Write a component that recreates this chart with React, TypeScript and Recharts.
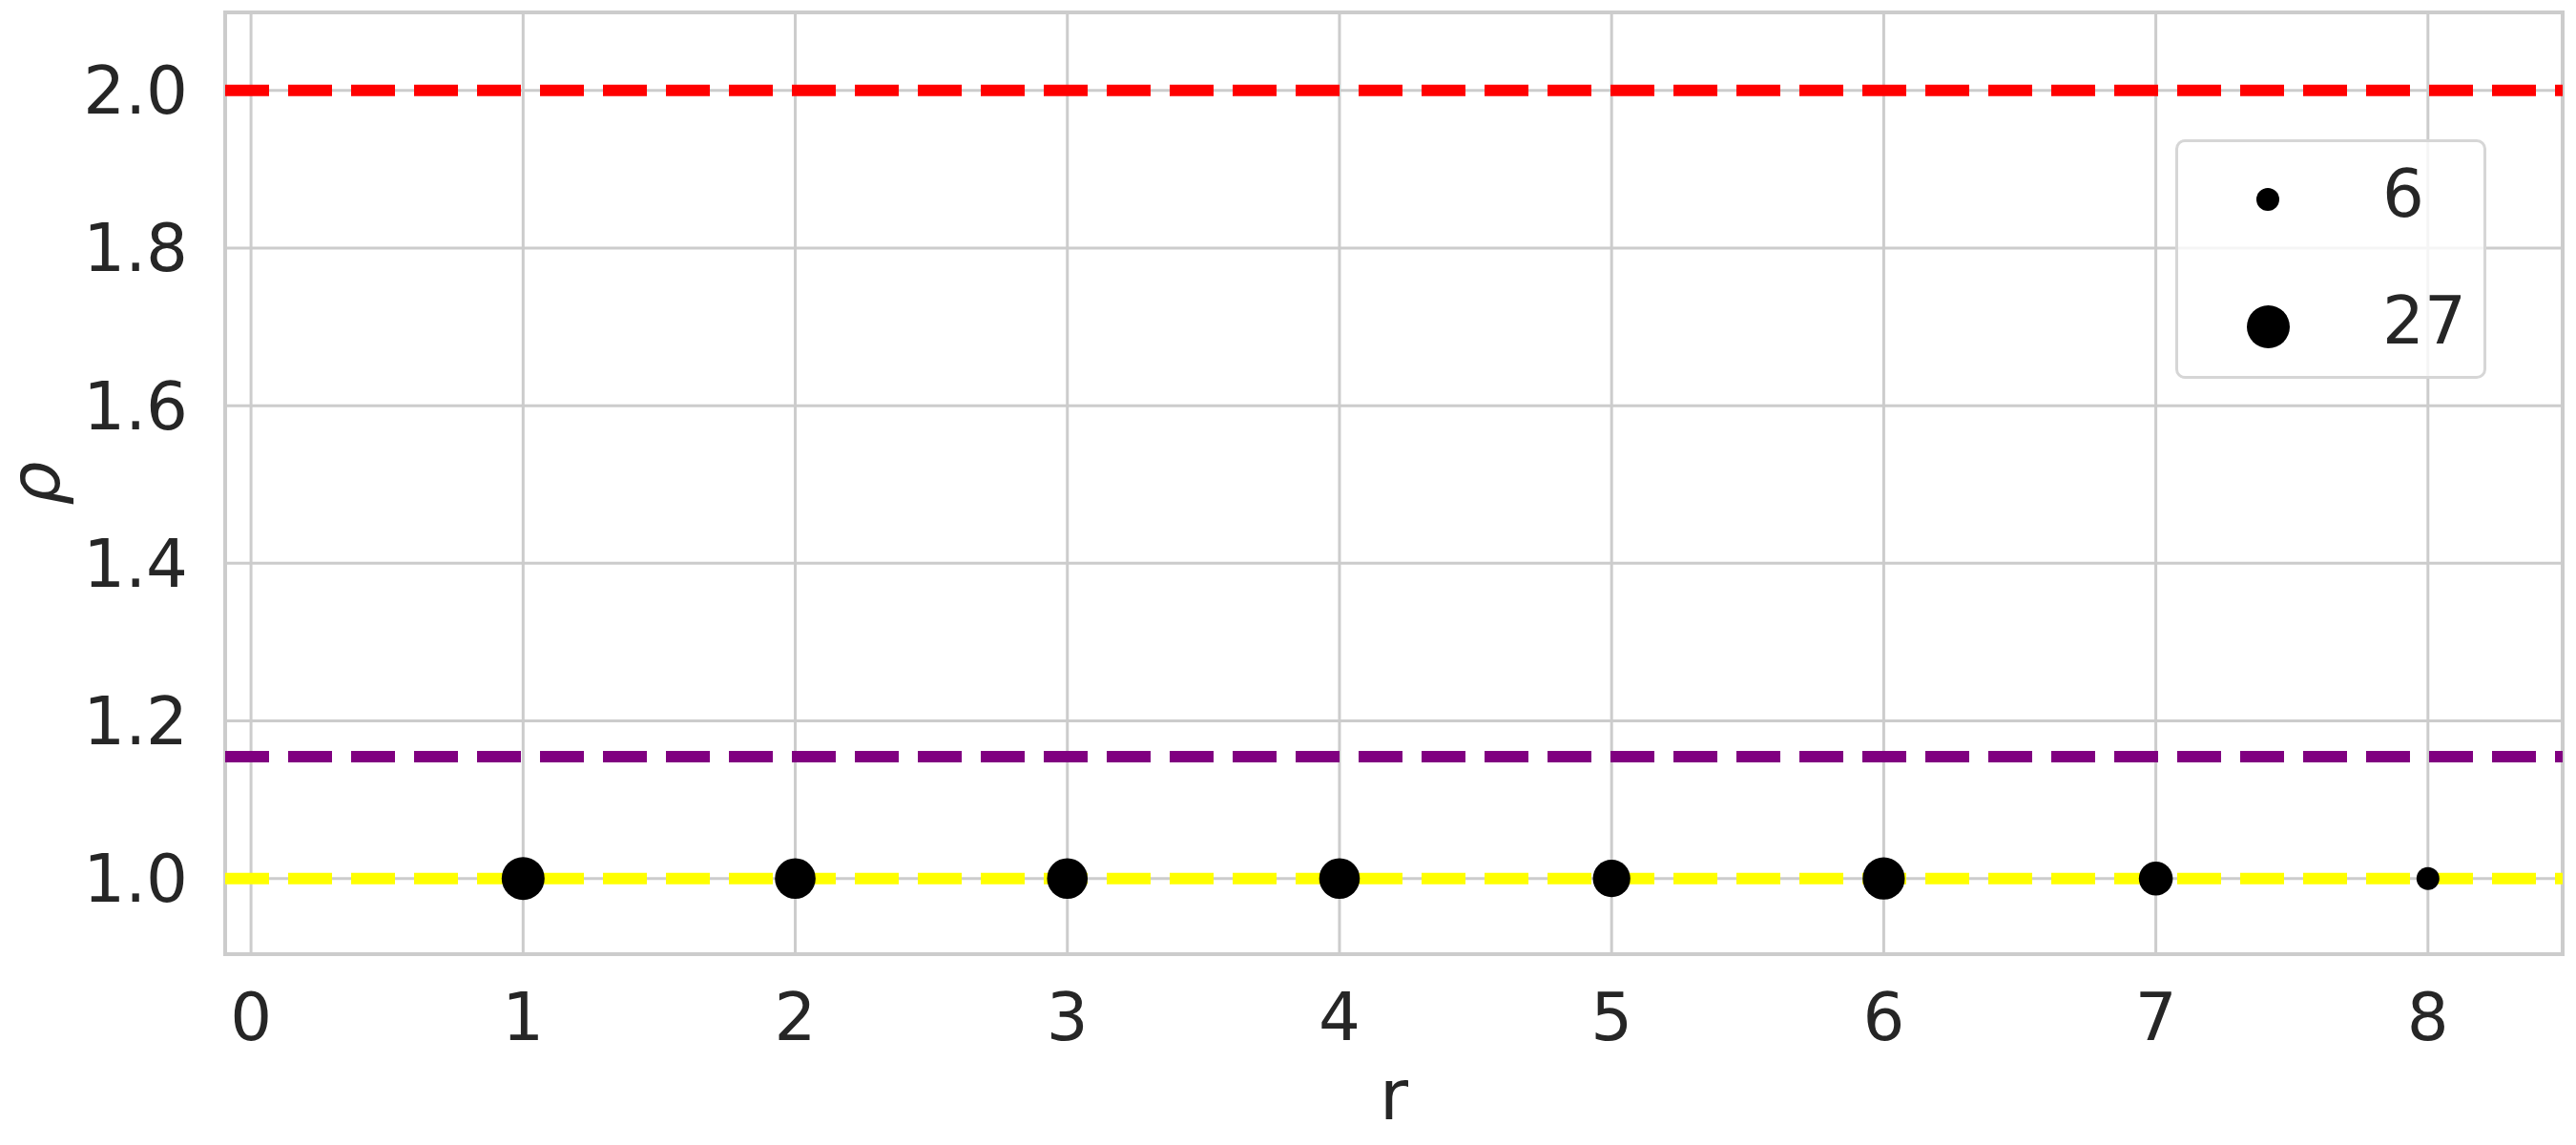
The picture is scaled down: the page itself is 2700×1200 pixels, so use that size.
import React from 'react';
import { ScatterChart, Scatter, XAxis, YAxis, ZAxis, CartesianGrid, ReferenceLine, ReferenceArea } from 'recharts';

const rValues = [1, 2, 3, 4, 5, 6, 7, 8];
const rhoValues = [1.0, 1.0, 1.0, 1.0, 1.0, 1.0, 1.0, 1.0];
const countValues = [27, 24, 24, 24, 20, 26, 16, 6];

const xTicks = [0, 1, 2, 3, 4, 5, 6, 7, 8];
const yTicks = [1.0, 1.2, 1.4, 1.6, 1.8, 2.0];
const xDomain = [-0.095, 8.495];
const yDomain = [0.904, 2.099];

// horizontal reference levels: 2, 2/sqrt(3), 1
const levelValues = [2.0, 1.1547, 1.0];
const levelColors = ['#ff0000', '#800080', '#ffff00'];

const legendValues = [6, 27];

const sizeDomain = [6, 27];
// marker area in px^2 (circle diameters 24 -> 45)
const areaRange = [Math.PI * 12 * 12, Math.PI * 22.5 * 22.5];

const data = rValues.map((r, i) => ({ r, rho: rhoValues[i], n: countValues[i] }));

const FONT = '"DejaVu Sans", sans-serif';
const TEXT = '#262626';
const GRID = '#cccccc';
const TICK_FS = 69;

function markerDiameter(v: number) {
  const t = (v - sizeDomain[0]) / (sizeDomain[1] - sizeDomain[0]);
  const area = areaRange[0] + t * (areaRange[1] - areaRange[0]);
  return 2 * Math.sqrt(area / Math.PI);
}

function SizeLegend() {
  return (
    <div
      style={{
        position: 'absolute',
        left: 2280,
        top: 146,
        width: 326,
        height: 251,
        boxSizing: 'border-box',
        border: '3px solid #d6d6d6',
        borderRadius: 10,
        background: 'rgba(255,255,255,0.8)',
        fontFamily: FONT,
        color: TEXT,
      }}
    >
      {legendValues.map((v, i) => {
        const d = markerDiameter(v);
        const cy = i === 0 ? 60 : 193;
        return (
          <React.Fragment key={v}>
            <svg
              width={d}
              height={d}
              style={{ position: 'absolute', left: 94 - d / 2, top: cy - d / 2 }}
            >
              <circle cx={d / 2} cy={d / 2} r={d / 2} fill="#000" />
            </svg>
            <div
              style={{
                position: 'absolute',
                left: 214,
                top: cy - 6 - 42,
                fontSize: TICK_FS,
                lineHeight: '84px',
              }}
            >
              {v}
            </div>
          </React.Fragment>
        );
      })}
    </div>
  );
}

export default function App() {
  return (
    <div style={{ position: 'absolute', left: 0, top: 0, width: 2700, height: 1200, background: '#fff' }}>
      <ScatterChart width={2700} height={1200} margin={{ top: 13, right: 14, bottom: 0, left: 0 }}>
        <CartesianGrid stroke={GRID} strokeWidth={3} />
        <XAxis
          type="number"
          dataKey="r"
          domain={xDomain}
          ticks={xTicks}
          allowDataOverflow
          height={200}
          axisLine={false}
          tickLine={false}
          tickSize={0}
          tickMargin={41}
          tick={{ fontSize: TICK_FS, fill: TEXT, fontFamily: FONT }}
          label={{ value: 'r', position: 'insideBottom', offset: 27, fontSize: 73, fill: TEXT, fontFamily: FONT }}
        />
        <YAxis
          type="number"
          dataKey="rho"
          domain={yDomain}
          ticks={yTicks}
          allowDataOverflow
          width={236}
          axisLine={false}
          tickLine={false}
          tickSize={0}
          tickMargin={39}
          tickFormatter={(v: number) => v.toFixed(1)}
          tick={{ fontSize: TICK_FS, fill: TEXT, fontFamily: FONT }}
          label={{
            content: ({ viewBox }: any) => {
              const cy = viewBox.y + viewBox.height / 2;
              return (
                <text
                  x={62}
                  y={cy}
                  transform={`rotate(-90, 62, ${cy})`}
                  textAnchor="middle"
                  fontSize={73}
                  fontStyle="italic"
                  fill={TEXT}
                  fontFamily={FONT}
                >
                  ρ
                </text>
              );
            },
          }}
        />
        <ZAxis type="number" dataKey="n" domain={sizeDomain} range={areaRange} />
        {levelValues.map((y, i) => (
          <ReferenceLine
            key={y}
            y={y}
            stroke={levelColors[i]}
            strokeWidth={12}
            strokeDasharray="46 20"
          />
        ))}
        <Scatter data={data} fill="#000000" isAnimationActive={false} />
        <ReferenceArea
          x1={xDomain[0]}
          x2={xDomain[1]}
          y1={yDomain[0]}
          y2={yDomain[1]}
          fill="none"
          fillOpacity={0}
          stroke={GRID}
          strokeWidth={4}
        />
      </ScatterChart>
      <SizeLegend />
    </div>
  );
}
